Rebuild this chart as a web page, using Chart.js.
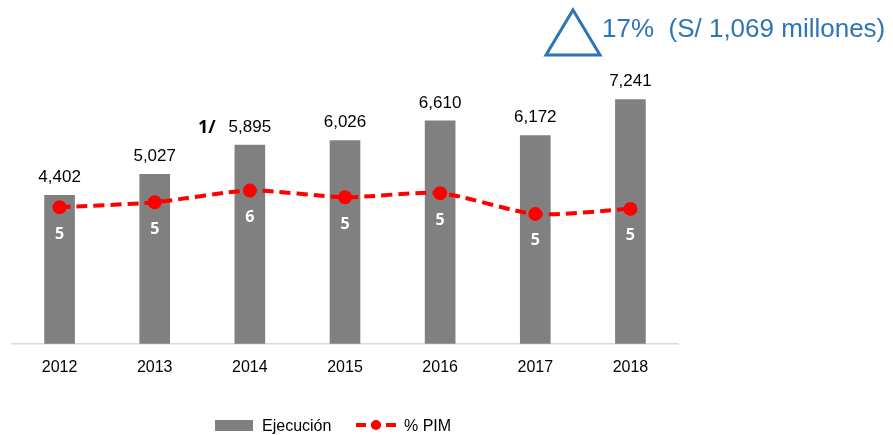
<!DOCTYPE html>
<html>
<head>
<meta charset="utf-8">
<script src="https://cdn.jsdelivr.net/npm/chart.js@4/dist/chart.umd.min.js"></script>
<style>
    html, body { margin: 0; padding: 0; background: #fff; }
    #wrap { width: 893px; height: 435px; position: relative; }
</style>
</head>
<body>
<div id="wrap"><canvas id="grafico"></canvas></div>
<script>
const years = ['2012', '2013', '2014', '2015', '2016', '2017', '2018']
const ejecucion = [4402, 5027, 5895, 6026, 6610, 6172, 7241]
const pctPim = [5.0, 5.15, 5.5, 5.3, 5.42, 4.8, 4.95]
const notaTexto = '17%  (S/ 1,069 millones)'

const FONT = '"Liberation Sans", Arial, sans-serif'
const GRIS = '#808080'
const ROJO = '#ff0000'
const AZUL = '#2e75b6'

const fmt = (v) => new Intl.NumberFormat('en-US').format(v)

// labels, "1/" note, triangle note and legend
const extras = {
    id: 'extras',
    afterDatasetsDraw(chart) {
        const ctx = chart.ctx
        const bars = chart.getDatasetMeta(0).data
        const pts = chart.getDatasetMeta(1).data
        ctx.save()
        ctx.textAlign = 'center'
        ctx.textBaseline = 'middle'
        ctx.fillStyle = '#000'
        ctx.font = '17px ' + FONT
        bars.forEach((b, i) => ctx.fillText(fmt(ejecucion[i]), b.x, b.y - 18))
        ctx.fillStyle = '#fff'
        ctx.font = 'bold 16px "Open Sans", sans-serif'
        pts.forEach((p, i) => ctx.fillText(Math.round(pctPim[i]).toString(), p.x, p.y + 27))

        // 1/ note next to 2014
        ctx.fillStyle = '#000'
        ctx.font = 'bold 18px "Open Sans", sans-serif'
        ctx.fillText('1/', bars[2].x - 43, bars[2].y - 17)

        // triangle + growth note
        ctx.strokeStyle = AZUL
        ctx.lineWidth = 3
        ctx.lineJoin = 'miter'
        ctx.beginPath()
        ctx.moveTo(573, 10)
        ctx.lineTo(600, 55)
        ctx.lineTo(546, 55)
        ctx.closePath()
        ctx.stroke()
        ctx.fillStyle = AZUL
        ctx.textAlign = 'left'
        ctx.font = '26px ' + FONT
        ctx.fillText(notaTexto, 602, 30)

        // legend
        ctx.fillStyle = GRIS
        ctx.fillRect(215, 420, 38, 11)
        ctx.fillStyle = '#000'
        ctx.font = '16px ' + FONT
        ctx.fillText('Ejecución', 262, 427)
        ctx.strokeStyle = ROJO
        ctx.lineWidth = 4
        ctx.setLineDash([10, 5])
        ctx.beginPath()
        ctx.moveTo(356, 425)
        ctx.lineTo(397, 425)
        ctx.stroke()
        ctx.setLineDash([])
        ctx.fillStyle = ROJO
        ctx.beginPath()
        ctx.arc(376, 425, 5, 0, Math.PI * 2)
        ctx.fill()
        ctx.fillStyle = '#000'
        ctx.fillText('% PIM', 404, 427)
        ctx.restore()
    }
}

new Chart(document.getElementById('grafico'), {
    type: 'bar',
    data: {
        labels: years,
        datasets: [
            {
                type: 'bar',
                label: 'Ejecución',
                data: ejecucion,
                backgroundColor: GRIS,
                barThickness: 30,
                yAxisID: 'y',
                order: 2,
            },
            {
                type: 'line',
                label: '% PIM',
                data: pctPim,
                borderColor: ROJO,
                backgroundColor: ROJO,
                borderWidth: 4,
                borderDash: [11, 6],
                pointRadius: 5,
                pointHoverRadius: 5,
                tension: 0.25,
                yAxisID: 'y1',
                order: 1,
            }
        ]
    },
    options: {
        responsive: true,
        maintainAspectRatio: false,
        animation: false,
        layout: { padding: { left: 12, right: 215, top: 74, bottom: 44 } },
        plugins: {
            legend: { display: false },
            tooltip: { enabled: false },
        },
        scales: {
            x: {
                grid: { display: false, drawTicks: false },
                border: { display: true, color: '#d9d9d9', width: 1.5 },
                ticks: { color: '#000', font: { family: FONT, size: 16 }, padding: 14 },
            },
            y: { display: false, min: 0, max: 8000 },
            y1: { display: false, min: 0.9, max: 9, position: 'right' },
        }
    },
    plugins: [extras]
})
</script>
</body>
</html>
